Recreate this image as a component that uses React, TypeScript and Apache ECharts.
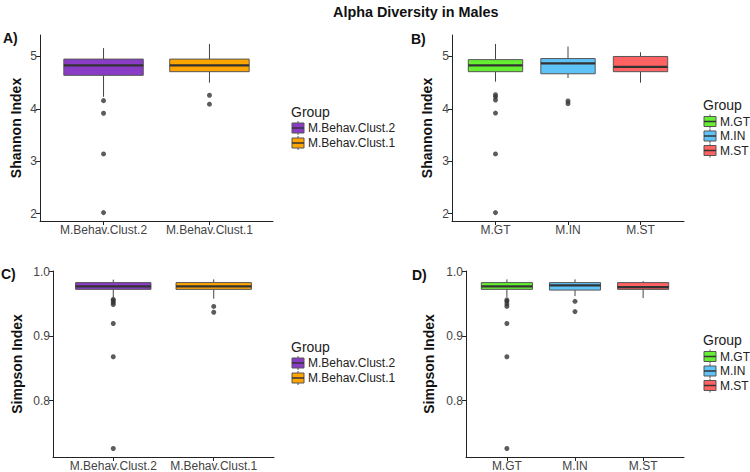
import React, { useEffect, useRef } from "react";
import * as echarts from "echarts";

// ---------- data ----------
const behavCategories = ["M.Behav.Clust.2", "M.Behav.Clust.1"];
const groupCategories = ["M.GT", "M.IN", "M.ST"];
const behavColors = ["#8a3cc6", "#ffa500"];
const groupColors = ["#66ee33", "#60c3f8", "#ff6262"];

// [lower whisker, Q1, median, Q3, upper whisker]
const shannonBehavBoxes = [
  [4.23, 4.64, 4.83, 4.95, 5.16],
  [4.5, 4.71, 4.83, 4.95, 5.24],
];
const shannonBehavOutliers = [
  [4.157, 3.916, 3.14, 2.02],
  [4.26, 4.09],
];
const shannonGroupBoxes = [
  [4.52, 4.71, 4.83, 4.94, 5.24],
  [4.59, 4.67, 4.87, 4.96, 5.19],
  [4.5, 4.71, 4.8, 5.0, 5.08],
];
const shannonGroupOutliers = [
  [4.27, 4.23, 4.17, 3.92, 3.14, 2.02],
  [4.15, 4.1],
  [],
];
const simpsonBehavBoxes = [
  [0.96, 0.9725, 0.977, 0.983, 0.9876],
  [0.958, 0.9725, 0.977, 0.983, 0.988],
];
const simpsonBehavOutliers = [
  [0.957, 0.955, 0.952, 0.949, 0.9196, 0.868, 0.7257],
  [0.946, 0.937],
];
const simpsonGroupBoxes = [
  [0.96, 0.9725, 0.977, 0.983, 0.988],
  [0.962, 0.9714, 0.9787, 0.983, 0.988],
  [0.959, 0.9725, 0.976, 0.983, 0.9854],
];
const simpsonGroupOutliers = [
  [0.956, 0.954, 0.95, 0.946, 0.9196, 0.868, 0.7257],
  [0.954, 0.938],
  [],
];
const shannonTicks = [2, 3, 4, 5];
const simpsonTicks = [0.8, 0.9, 1.0];

const FONT = "'Liberation Sans', Arial, Helvetica, sans-serif";
const AXIS_COLOR = "#222";
const LABEL_COLOR = "#444";

type Panel = {
  grid: { left: number; top: number; width: number; height: number };
  cats: string[];
  colors: string[];
  boxes: number[][];
  outliers: number[][];
  yMin: number;
  yMax: number;
  yTicks: number[];
  yDigits: number;
  yName: string;
  nameGap: number;
};

const panels: Panel[] = [
  {
    grid: { left: 40, top: 35, width: 233, height: 186 },
    cats: behavCategories, colors: behavColors,
    boxes: shannonBehavBoxes, outliers: shannonBehavOutliers,
    yMin: 1.86, yMax: 5.41, yTicks: shannonTicks, yDigits: 0,
    yName: "Shannon Index", nameGap: 17,
  },
  {
    grid: { left: 452, top: 35, width: 232, height: 186 },
    cats: groupCategories, colors: groupColors,
    boxes: shannonGroupBoxes, outliers: shannonGroupOutliers,
    yMin: 1.86, yMax: 5.41, yTicks: shannonTicks, yDigits: 0,
    yName: "Shannon Index", nameGap: 18,
  },
  {
    grid: { left: 53, top: 271, width: 221, height: 186 },
    cats: behavCategories, colors: behavColors,
    boxes: simpsonBehavBoxes, outliers: simpsonBehavOutliers,
    yMin: 0.7125, yMax: 1.001, yTicks: simpsonTicks, yDigits: 1,
    yName: "Simpson Index", nameGap: 29,
  },
  {
    grid: { left: 466, top: 271, width: 218, height: 186 },
    cats: groupCategories, colors: groupColors,
    boxes: simpsonGroupBoxes, outliers: simpsonGroupOutliers,
    yMin: 0.7125, yMax: 1.001, yTicks: simpsonTicks, yDigits: 1,
    yName: "Simpson Index", nameGap: 30,
  },
];

function legendGraphics(x: number, titleY: number, firstY: number, step: number, names: string[], colors: string[]) {
  const els: any[] = [
    {
      type: "text", x, y: titleY,
      style: { text: "Group", font: `14px ${FONT}`, fill: "#222", textVerticalAlign: "middle" },
    },
  ];
  names.forEach((n, i) => {
    const cy = firstY + i * step;
    const kx = x + 1;
    els.push(
      { type: "line", shape: { x1: kx + 6, y1: cy - 7, x2: kx + 6, y2: cy + 7 }, style: { stroke: "#555", lineWidth: 1 } },
      { type: "rect", shape: { x: kx, y: cy - 5, width: 12, height: 10 }, style: { fill: colors[i], stroke: "#555", lineWidth: 1 } },
      { type: "line", shape: { x1: kx, y1: cy, x2: kx + 12, y2: cy }, style: { stroke: "#333", lineWidth: 1.5 } },
      {
        type: "text", x: kx + 16, y: cy,
        style: { text: n, font: `12px ${FONT}`, fill: "#222", textVerticalAlign: "middle" },
      }
    );
  });
  return els;
}

export default function App() {
  const ref = useRef<HTMLDivElement>(null);
  useEffect(() => {
    if (!ref.current) return;
    const chart = echarts.init(ref.current, undefined, { renderer: "svg" });

    const grids: any[] = [];
    const xAxes: any[] = [];
    const yAxes: any[] = [];
    const series: any[] = [];

    panels.forEach((p, pi) => {
      grids.push({ ...p.grid, containLabel: false });
      const xVals = p.cats.map((_, i) => i + 1);
      xAxes.push({
        type: "value", gridIndex: pi, min: 0.4, max: p.cats.length + 0.6,
        splitLine: { show: false },
        axisLine: { onZero: false, lineStyle: { color: AXIS_COLOR, width: 1 } },
        axisTick: { customValues: xVals, length: 4, lineStyle: { color: AXIS_COLOR } },
        axisLabel: {
          customValues: xVals, margin: 3, fontSize: 12, color: LABEL_COLOR, fontFamily: FONT,
          formatter: (v: number) => p.cats[Math.round(v) - 1] ?? "",
        },
      });
      yAxes.push({
        type: "value", gridIndex: pi, min: p.yMin, max: p.yMax,
        splitLine: { show: false },
        axisLine: { onZero: false, lineStyle: { color: AXIS_COLOR, width: 1 } },
        axisTick: { customValues: p.yTicks, length: 4, lineStyle: { color: AXIS_COLOR } },
        axisLabel: {
          customValues: p.yTicks, margin: 3, fontSize: 12, color: LABEL_COLOR, fontFamily: FONT,
          formatter: (v: number) => v.toFixed(p.yDigits),
        },
        name: p.yName, nameLocation: "middle", nameRotate: 90, nameGap: p.nameGap,
        nameTextStyle: { fontSize: 14, fontWeight: "bold", color: "#111", fontFamily: FONT },
      });
      series.push({
        type: "custom", xAxisIndex: pi, yAxisIndex: pi,
        data: p.boxes.map((b, i) => [i + 1, ...b]),
        encode: { x: 0, y: [1, 2, 3, 4, 5] },
        renderItem: (params: any, api: any) => {
          const x = api.value(0);
          const lo = api.coord([x, api.value(1)]);
          const q1 = api.coord([x, api.value(2)]);
          const md = api.coord([x, api.value(3)]);
          const q3 = api.coord([x, api.value(4)]);
          const hi = api.coord([x, api.value(5)]);
          const w = api.size([0.75, 0])[0];
          const cx = lo[0];
          const color = p.colors[params.dataIndex];
          return {
            type: "group",
            children: [
              { type: "line", shape: { x1: cx, y1: hi[1], x2: cx, y2: q3[1] }, style: { stroke: "#444", lineWidth: 1 } },
              { type: "line", shape: { x1: cx, y1: q1[1], x2: cx, y2: lo[1] }, style: { stroke: "#444", lineWidth: 1 } },
              { type: "rect", shape: { x: cx - w / 2, y: q3[1], width: w, height: q1[1] - q3[1] }, style: { fill: color, stroke: "#555", lineWidth: 1 } },
              { type: "line", shape: { x1: cx - w / 2, y1: md[1], x2: cx + w / 2, y2: md[1] }, style: { stroke: "#333", lineWidth: 2.2 } },
            ],
          };
        },
      });
      const pts: number[][] = [];
      p.outliers.forEach((arr, i) => arr.forEach((v) => pts.push([i + 1, v])));
      series.push({
        type: "scatter", xAxisIndex: pi, yAxisIndex: pi, data: pts,
        symbol: "circle", symbolSize: 5, itemStyle: { color: "#333" },
      });
    });

    const graphics: any[] = [
      { type: "text", x: 3, y: 38, style: { text: "A)", font: `bold 14px ${FONT}`, fill: "#111", textVerticalAlign: "middle" } },
      { type: "text", x: 411, y: 39, style: { text: "B)", font: `bold 14px ${FONT}`, fill: "#111", textVerticalAlign: "middle" } },
      { type: "text", x: 1, y: 274, style: { text: "C)", font: `bold 14px ${FONT}`, fill: "#111", textVerticalAlign: "middle" } },
      { type: "text", x: 412, y: 275, style: { text: "D)", font: `bold 14px ${FONT}`, fill: "#111", textVerticalAlign: "middle" } },
      ...legendGraphics(291, 112, 128, 15, behavCategories, behavColors),
      ...legendGraphics(703, 105, 121.5, 14.5, groupCategories, groupColors),
      ...legendGraphics(291, 347, 363, 15, behavCategories, behavColors),
      ...legendGraphics(703, 340, 356.5, 14.5, groupCategories, groupColors),
    ];

    chart.setOption({
      animation: false,
      backgroundColor: "#fff",
      textStyle: { fontFamily: FONT },
      title: {
        text: "Alpha Diversity in Males", left: 328, top: 0,
        textStyle: { fontSize: 14.4, fontWeight: "bold", color: "#111", fontFamily: FONT },
      },
      grid: grids,
      xAxis: xAxes,
      yAxis: yAxes,
      series,
      graphic: graphics,
    });
    return () => chart.dispose();
  }, []);
  return (
    <div
      ref={ref}
      style={{ position: "fixed", left: 0, top: 0, width: 750, height: 472, background: "#fff" }}
    />
  );
}
